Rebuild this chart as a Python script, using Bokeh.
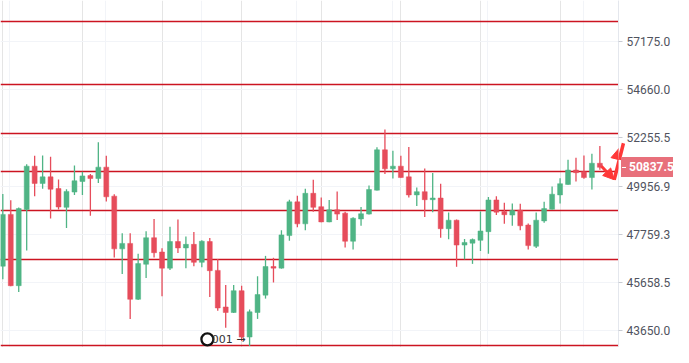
import math
from bokeh.plotting import figure
from bokeh.models import (Range1d, FixedTicker, PrintfTickFormatter, Grid, GridBox,
                          Arrow, NormalHead, ColumnDataSource, Div)
from bokeh.core.properties import value
from bokeh.embed import file_html
from bokeh.resources import INLINE

# ---- data ----
opens = [46356, 48652, 45522, 48871, 50890, 50077, 50385, 49838, 48972, 49676,
         50168, 50444, 50306, 50844, 49487, 47112, 47352, 44947, 46440, 47604,
         46974, 46272, 47436, 47154, 47310, 46524, 47436, 46176, 44626, 44397,
         45309, 43393, 44397, 45120, 46343, 46272, 47700, 49223, 48225, 49618,
         49003, 48313, 48858, 48709, 47448, 48445, 48665, 49764, 51672, 50766,
         50890, 50385, 49544, 49693, 49324, 49399, 48006, 48388, 47280, 47364,
         47490, 47874, 49311, 48783, 48621, 48840, 48168, 47226, 48357, 48884,
         49544, 50031, 50706, 50628, 50352, 51028]
highs = [49588, 49297, 48960, 50982, 51382, 51396, 51336, 50260, 49807, 50922,
         50628, 50522, 52039, 51382, 49575, 47803, 47803, 46902, 47891, 48445,
         47142, 48093, 48419, 47658, 47860, 47490, 47591, 46667, 45550, 45550,
         45522, 44518, 45923, 46805, 46721, 47935, 49324, 49500, 49825, 50247,
         49429, 49311, 49706, 48770, 48520, 48990, 49985, 51796, 52655, 51626,
         51382, 51810, 49882, 50784, 50568, 50063, 48740, 48419, 47549, 47574,
         48783, 49443, 49487, 49179, 49148, 49135, 48243, 48740, 49223, 49939,
         50325, 51198, 51290, 51396, 51488, 51856]
lows = [45797, 45500, 45257, 47045, 49487, 49825, 48463, 48871, 48036, 49544,
        49544, 48594, 50095, 49236, 46734, 46020, 44132, 44920, 45852, 46734,
        45080, 46188, 46932, 46272, 46356, 46314, 45040, 44465, 43770, 44380,
        43228, 43036, 44132, 44976, 45658, 46250, 47465, 48067, 47935, 48770,
        48300, 48300, 48401, 47171, 47087, 48137, 48650, 49750, 50522, 50306,
        50340, 49429, 49034, 48533, 48753, 47604, 47532, 46331, 46650, 46457,
        47016, 46902, 48621, 48225, 48137, 47935, 47087, 47154, 48269, 48870,
        49148, 50020, 50168, 50293, 49794, 50720]
closes = [48652, 45522, 48915, 50890, 50077, 50385, 49807, 48990, 49706, 50201,
          50430, 50306, 50844, 49456, 47112, 47352, 44947, 46469, 47604, 46944,
          46272, 47436, 47154, 47310, 46524, 47448, 46163, 44586, 44397, 45309,
          43393, 44425, 45148, 46343, 46272, 47730, 49223, 48225, 49618, 48972,
          48313, 48858, 48665, 47448, 48476, 48682, 49794, 51672, 50766, 50890,
          50352, 49544, 49693, 49324, 49399, 48006, 48388, 47280, 47394, 47520,
          47904, 49311, 48753, 48638, 48827, 48137, 47255, 48388, 48915, 49575,
          50063, 50706, 50582, 50352, 51028, 50837.5]

levels = [58229, 54921, 52443, 50634, 48843, 46652, 43054]          # red horizontal lines
y_ticks = [43650.0, 45658.5, 47759.3, 49956.9, 52255.5, 54660.0, 57175.0]
x_grid = [0.9, 12.9, 24.9, 36.9, 48.9, 60.9, 72.9]
last_price = 50837.5
marker_label = "001 →"
marker_pos = [25.7, 43300]
arrow1 = [75.2, 50890, 76.8, 50250]
arrow2 = [76.8, 50250, 77.96, 51990]

GREEN = "#4fb485"
RED = "#e64c5b"
W, H = 673, 347
FRAME_W = 621
Y0, Y1 = 42971, 59394

idx = list(range(len(opens)))
colors = [GREEN if c >= o else RED for o, c in zip(opens, closes)]
src = ColumnDataSource(dict(x=idx, o=opens, h=highs, l=lows, c=closes,
                            top=[max(o, c) for o, c in zip(opens, closes)],
                            bot=[min(o, c) for o, c in zip(opens, closes)],
                            color=colors))

p = figure(width=W, height=H, y_axis_type="log",
           x_range=Range1d(-0.29, 77.34), y_range=Range1d(Y0, Y1),
           output_backend="svg", toolbar_location=None,
           x_axis_location=None, y_axis_location="right",
           min_border_left=0, min_border_top=0, min_border_bottom=0,
           min_border_right=W - FRAME_W)
p.outline_line_color = None

ax = p.yaxis[0]
ax.ticker = FixedTicker(ticks=y_ticks)
ax.formatter = PrintfTickFormatter(format="%.1f")
ax.axis_line_color = "#e4e7ed"
ax.major_tick_line_color = "#c9ccd3"
ax.major_tick_out = 4
ax.major_tick_in = 0
ax.minor_tick_line_color = None
ax.major_label_text_font = "Roboto"
ax.major_label_text_font_size = "12px"
ax.major_label_text_color = "#50535e"
ax.major_label_standoff = 4

p.ygrid.ticker = FixedTicker(ticks=y_ticks)
p.ygrid.grid_line_color = "#f2f4f8"
p.add_layout(Grid(dimension=0, ticker=FixedTicker(ticks=x_grid),
                  grid_line_color="#f2f4f8"))

p.hspan(y=levels, line_color="#cc1421", line_width=1.5)

p.segment(x0="x", y0="h", x1="x", y1="l", color="color", line_width=1.3, source=src)
p.vbar(x="x", top="top", bottom="bot", width=0.62, fill_color="color",
       line_color="color", line_width=0.5, source=src)

# right-side arrow annotation
p.add_layout(Arrow(x_start=arrow1[0], y_start=arrow1[1], x_end=arrow1[2], y_end=arrow1[3],
                   line_color="#ff3838", line_width=3,
                   end=NormalHead(size=11, fill_color="#ff3838", line_color="#ff3838")))
p.add_layout(Arrow(x_start=arrow2[0], y_start=arrow2[1], x_end=arrow2[2], y_end=arrow2[3],
                   line_color="#ff3838", line_width=3.5,
                   end=NormalHead(size=17, fill_color="#ff3838", line_color="#ff3838")))

# bottom marker text
p.scatter([marker_pos[0]], [marker_pos[1]], marker="circle", size=12,
          fill_color=None, line_color="#111111", line_width=2.3)
p.text([marker_pos[0] + 0.55], [marker_pos[1]], text=[marker_label],
       text_font=value("DejaVu Sans"), text_font_size="11px", text_color="#333333",
       text_baseline="middle", text_align="left")

# current-price tag on the axis, overlaid in the same grid cell
frac = (math.log(last_price) - math.log(Y0)) / (math.log(Y1) - math.log(Y0))
tag_h = 20
tag_top = int(round(H * (1 - frac) - tag_h / 2))
tag = Div(
    text=('<div style="color:white;font-family:Roboto;font-size:12px;font-weight:bold;'
          'line-height:20px;white-space:nowrap;overflow:hidden;padding-left:1px;">'
          '<span style="display:inline-block;width:4px;height:1px;background:white;'
          'vertical-align:middle;margin-right:3px;"></span>'
          f'{last_price:.1f}</div>'),
    width=W - FRAME_W, height=tag_h, margin=(tag_top, 0, 0, FRAME_W),
    styles={"background-color": "#e8707b", "overflow": "hidden"})

layout = GridBox(children=[(p, 0, 0), (tag, 0, 0)])

open("out.html", "w").write(file_html(layout, INLINE))
